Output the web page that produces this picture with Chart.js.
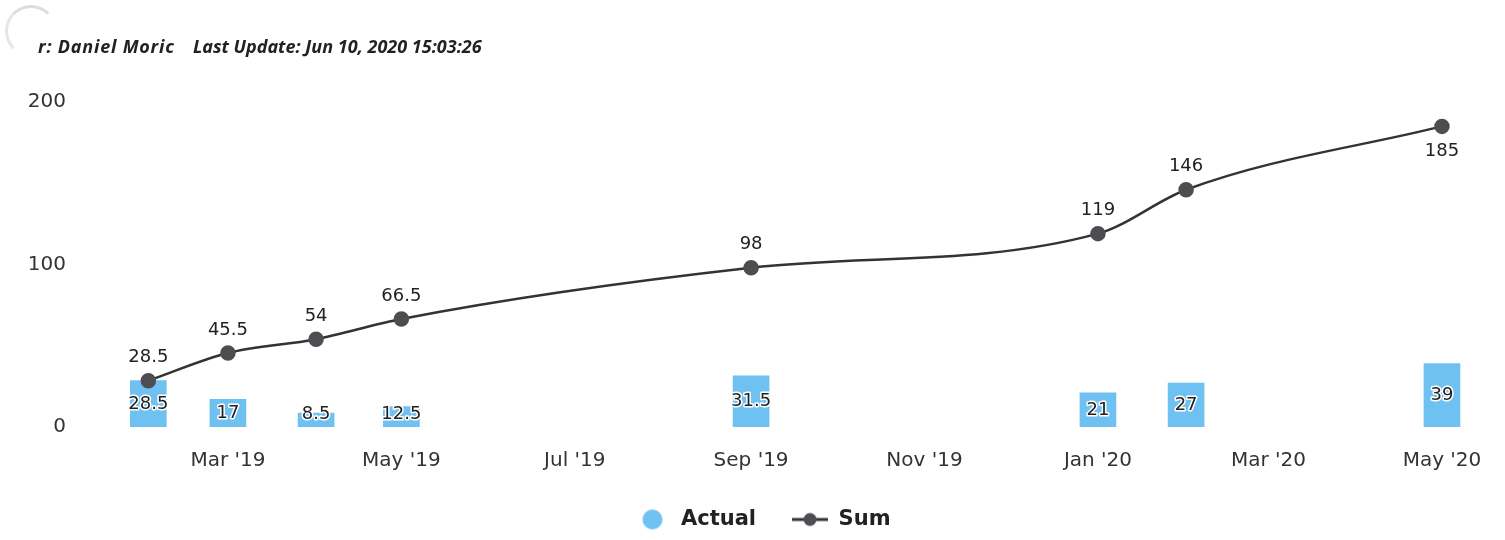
<!DOCTYPE html>
<html>
<head>
<meta charset="utf-8">
<script src="https://cdn.jsdelivr.net/npm/chart.js@4"></script>
<style>
  body { margin: 0; background: #fff; }
  #wrap { position: relative; width: 1505px; height: 540px; }
  .hdr {
    position: absolute; top: 34px;
    font-family: "Noto Sans", sans-serif; font-style: italic; font-weight: bold;
    font-size: 18px; color: #222; white-space: pre;
  }
  #spinner {
    position: absolute; left: 5px; top: 5px; width: 46px; height: 46px;
    border-radius: 50%; border: 3px solid transparent;
    border-top-color: #ddd; border-left-color: #e6e6e6;
  }
</style>
</head>
<body>
<div id="wrap">
  <canvas id="myChart" width="1505" height="540"></canvas>
  <div id="spinner"></div>
  <div class="hdr" style="left:38px; letter-spacing:0.8px">r: Daniel Moric</div>
  <div class="hdr" style="left:193px">Last Update: Jun 10, 2020 15:03:26</div>
</div>
<script>
// Chart data
const dates = ['2019-02-01', '2019-03-01', '2019-04-01', '2019-05-01', '2019-09-01', '2020-01-01', '2020-02-01', '2020-05-01'];
const actual = [28.5, 17, 8.5, 12.5, 31.5, 21, 27, 39];
const sum = [28.5, 45.5, 54, 66.5, 98, 119, 146, 185];
const tickDates = ['2019-03-01', '2019-05-01', '2019-07-01', '2019-09-01', '2019-11-01', '2020-01-01', '2020-03-01', '2020-05-01'];
const tickLabels = ["Mar '19", "May '19", "Jul '19", "Sep '19", "Nov '19", "Jan '20", "Mar '20", "May '20"];
const yTicks = [0, 100, 200];

const toDay = (s) => Date.parse(s + 'T00:00:00Z') / 86400000;
const barColor = '#6fc1f2';
const lineColor = '#333333';
const markerColor = '#4d4d52';
const fontFamily = '"DejaVu Sans", sans-serif';

// legend marker images
const circleImg = document.createElement('canvas');
circleImg.width = 22; circleImg.height = 22;
let c = circleImg.getContext('2d');
c.fillStyle = barColor;
c.beginPath(); c.arc(11, 11, 10, 0, Math.PI * 2); c.fill();

const lineImg = document.createElement('canvas');
lineImg.width = 36; lineImg.height = 16;
c = lineImg.getContext('2d');
c.strokeStyle = lineColor; c.lineWidth = 3;
c.beginPath(); c.moveTo(0, 8); c.lineTo(36, 8); c.stroke();
c.fillStyle = markerColor;
c.beginPath(); c.arc(18, 8, 6.5, 0, Math.PI * 2); c.fill();
const legendIcons = [circleImg, lineImg];

// value labels for bars and line points
const valueLabels = {
  id: 'valueLabels',
  afterDatasetsDraw(chart) {
    const ctx = chart.ctx;
    const area = chart.chartArea;
    ctx.save();
    ctx.textAlign = 'center';
    ctx.textBaseline = 'middle';
    ctx.lineJoin = 'round';
    ctx.font = '18px ' + fontFamily;
    chart.getDatasetMeta(0).data.forEach((bar, i) => {
      let y = (bar.y + bar.base) / 2;
      y = Math.min(y, bar.base - 13);
      ctx.strokeStyle = '#fff';
      ctx.lineWidth = 3;
      ctx.strokeText(actual[i], bar.x, y);
      ctx.fillStyle = '#222';
      ctx.fillText(actual[i], bar.x, y);
    });
    chart.getDatasetMeta(1).data.forEach((pt, i) => {
      const below = area.right - pt.x < 80;
      const y = below ? pt.y + 25 : pt.y - 23;
      ctx.fillStyle = '#222';
      ctx.fillText(sum[i], pt.x, y);
    });
    ctx.restore();
  }
};

const ctx = document.getElementById('myChart').getContext('2d');
const chart = new Chart(ctx, {
  type: 'bar',
  data: {
    datasets: [
      {
        type: 'bar',
        label: 'Actual',
        data: dates.map((d, i) => ({ x: toDay(d), y: actual[i] })),
        backgroundColor: barColor,
        barThickness: 36,
        order: 2,
      },
      {
        type: 'line',
        label: 'Sum',
        data: dates.map((d, i) => ({ x: toDay(d), y: sum[i] })),
        borderColor: lineColor,
        borderWidth: 2.5,
        cubicInterpolationMode: 'monotone',
        pointRadius: 6.5,
        pointBackgroundColor: markerColor,
        pointBorderColor: markerColor,
        order: 1,
      },
    ],
  },
  options: {
    responsive: false,
    animation: false,
    layout: { padding: { top: 102, left: 20, right: 0 } },
    plugins: {
      tooltip: { enabled: false },
      legend: {
        position: 'bottom',
        labels: {
          usePointStyle: true,
          pointStyleWidth: 36,
          padding: 36,
          color: '#222',
          font: { family: fontFamily, size: 21, weight: 'bold' },
          generateLabels(chart) {
            return chart.data.datasets.map((ds, i) => ({
              text: ds.label,
              pointStyle: legendIcons[i],
              fillStyle: 'transparent',
              strokeStyle: 'transparent',
              lineWidth: 0,
              fontColor: '#222',
              datasetIndex: i,
            }));
          },
        },
      },
    },
    scales: {
      x: {
        type: 'linear',
        offset: false,
        min: toDay('2019-01-15'),
        max: toDay('2020-05-20'),
        grid: { display: false, drawTicks: false, offset: false },
        border: { display: false },
        afterBuildTicks(scale) {
          scale.ticks = tickDates.map((d) => ({ value: toDay(d) }));
        },
        afterFit(scale) { scale.height = 46; },
        ticks: {
          padding: 22,
          maxRotation: 0,
          autoSkip: false,
          color: '#333',
          font: { family: fontFamily, size: 20 },
          callback: (v) => tickLabels[tickDates.findIndex((d) => toDay(d) === v)],
        },
      },
      y: {
        min: 0,
        max: 200,
        grid: { display: false, drawTicks: false },
        border: { display: false },
        afterBuildTicks(scale) {
          scale.ticks = yTicks.map((v) => ({ value: v }));
        },
        afterFit(scale) { scale.width = 80; },
        ticks: {
          padding: 34,
          color: '#333',
          font: { family: fontFamily, size: 20 },
        },
      },
    },
  },
  plugins: [valueLabels],
});
</script>
</body>
</html>
